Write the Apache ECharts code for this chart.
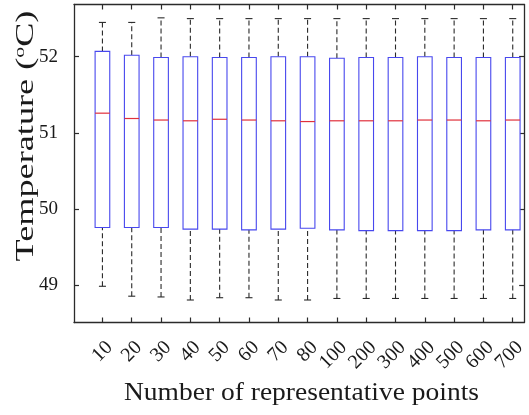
<!DOCTYPE html>
<html>
<head>
<meta charset="utf-8">
<script src="https://cdn.jsdelivr.net/npm/echarts@6/dist/echarts.min.js"></script>
<style>
  html, body { margin: 0; padding: 0; background: #ffffff; }
  #chart { width: 529px; height: 415px; }
</style>
</head>
<body>
<div id="chart"></div>
<script>
// Number of representative points (one box per setting)
const categories = ['10', '20', '30', '40', '50', '60', '70', '80', '100', '200', '300', '400', '500', '600', '700'];

// Box statistics of temperature (°C) for each setting
const whiskerLow  = [48.99, 48.86, 48.85, 48.81, 48.84, 48.84, 48.81, 48.81, 48.83, 48.83, 48.83, 48.83, 48.83, 48.83, 48.83];
const quartile1   = [49.76, 49.76, 49.76, 49.74, 49.74, 49.73, 49.74, 49.75, 49.73, 49.72, 49.72, 49.72, 49.72, 49.73, 49.73];
const medians     = [51.26, 51.19, 51.17, 51.16, 51.18, 51.17, 51.16, 51.15, 51.16, 51.16, 51.16, 51.17, 51.17, 51.16, 51.17];
const quartile3   = [52.07, 52.02, 51.99, 52.00, 51.99, 51.99, 52.00, 52.00, 51.98, 51.99, 51.99, 52.00, 51.99, 51.99, 51.99];
const whiskerHigh = [52.45, 52.45, 52.51, 52.50, 52.50, 52.50, 52.50, 52.50, 52.50, 52.50, 52.50, 52.50, 52.50, 52.50, 52.50];

// Y-axis tick values
const yTicks = [49, 50, 51, 52];

const positions = categories.map((c, i) => i + 1);
const boxData = categories.map((c, i) => [
  positions[i], whiskerLow[i], quartile1[i], medians[i], quartile3[i], whiskerHigh[i]
]);

const FONT = '"Liberation Serif", "Times New Roman", serif';
const INK = '#1a1a1a';
const FRAME = '#2b2b2b';
const BOX_BLUE = '#4848ee';
const MEDIAN_RED = '#e0303c';
const WHISKER = '#2a2a2a';

// One box: dashed whiskers with caps, blue IQR box, red median
function renderBox(params, api) {
  const x = api.value(0);
  const pLow = api.coord([x, api.value(1)]);
  const pQ1 = api.coord([x, api.value(2)]);
  const pMed = api.coord([x, api.value(3)]);
  const pQ3 = api.coord([x, api.value(4)]);
  const pHigh = api.coord([x, api.value(5)]);
  const halfBox = api.size([0.25, 0])[0];
  const halfCap = api.size([0.12, 0])[0];
  const cx = pMed[0];
  const dashed = { stroke: WHISKER, lineWidth: 1.1, lineDash: [5, 3], fill: null };
  const solid = { stroke: WHISKER, lineWidth: 1.1, fill: null };
  return {
    type: 'group',
    children: [
      { type: 'line', shape: { x1: cx, y1: pQ3[1], x2: cx, y2: pHigh[1] }, style: dashed },
      { type: 'line', shape: { x1: cx, y1: pLow[1], x2: cx, y2: pQ1[1] }, style: dashed },
      { type: 'line', shape: { x1: cx - halfCap, y1: pHigh[1], x2: cx + halfCap, y2: pHigh[1] }, style: solid },
      { type: 'line', shape: { x1: cx - halfCap, y1: pLow[1], x2: cx + halfCap, y2: pLow[1] }, style: solid },
      { type: 'rect', shape: { x: cx - halfBox, y: pQ3[1], width: halfBox * 2, height: pQ1[1] - pQ3[1] },
        style: { stroke: BOX_BLUE, lineWidth: 1.1, fill: '#ffffff' } },
      { type: 'line', shape: { x1: cx - halfBox, y1: pMed[1], x2: cx + halfBox, y2: pMed[1] },
        style: { stroke: MEDIAN_RED, lineWidth: 1.2 } }
    ]
  };
}

const xMin = 0.03, xMax = 15.39;
const yMin = 48.515, yMax = 52.685;
const frameLine = { show: true, lineStyle: { color: FRAME, width: 1.3 } };
const inTick = { show: true, inside: true, length: 5, lineStyle: { color: FRAME, width: 1.2 } };

const chart = echarts.init(document.getElementById('chart'), null, { renderer: 'canvas' });
chart.setOption({
  animation: false,
  backgroundColor: '#ffffff',
  grid: { left: 74, right: 3.5, top: 4.5, bottom: 92.5, containLabel: false },
  xAxis: [
    {
      type: 'value', position: 'bottom', min: xMin, max: xMax,
      axisLine: frameLine,
      axisTick: Object.assign({}, inTick, { customValues: positions }),
      axisLabel: {
        customValues: positions, rotate: 45, margin: 15,
        align: 'right', verticalAlign: 'top',
        fontFamily: FONT, fontSize: 20, color: INK,
        formatter: v => categories[Math.round(v) - 1] || ''
      },
      splitLine: { show: false }
    },
    {
      type: 'value', position: 'top', min: xMin, max: xMax,
      axisLine: frameLine,
      axisTick: Object.assign({}, inTick, { customValues: positions }),
      axisLabel: { show: false }, splitLine: { show: false }
    }
  ],
  yAxis: [
    {
      type: 'value', position: 'left', min: yMin, max: yMax,
      axisLine: frameLine,
      axisTick: Object.assign({}, inTick, { customValues: yTicks }),
      axisLabel: { customValues: yTicks, margin: 16, fontFamily: FONT, fontSize: 19, color: INK },
      splitLine: { show: false }
    },
    {
      type: 'value', position: 'right', min: yMin, max: yMax,
      axisLine: frameLine,
      axisTick: Object.assign({}, inTick, { customValues: yTicks }),
      axisLabel: { show: false }, splitLine: { show: false }
    }
  ],
  graphic: [
    {
      // vertical axis title
      type: 'text', x: 26, y: 136, rotation: Math.PI / 2, scaleX: 1.45, z: 10,
      style: {
        text: 'Temperature ({sup|o}C)', x: 0, y: 0, align: 'center', verticalAlign: 'middle',
        fontFamily: FONT, fontSize: 25, fill: INK,
        rich: { sup: { fontFamily: FONT, fontSize: 15, fill: INK, padding: [0, 0, 12, 0] } }
      }
    },
    {
      // horizontal axis title
      type: 'text', x: 301.5, y: 393, scaleX: 1.1, z: 10,
      style: {
        text: 'Number of representative points', x: 0, y: 0, align: 'center', verticalAlign: 'middle',
        fontFamily: FONT, fontSize: 25, fill: INK
      }
    }
  ],
  series: [
    {
      type: 'custom', xAxisIndex: 0, yAxisIndex: 0,
      renderItem: renderBox,
      encode: { x: 0, y: [1, 2, 3, 4, 5] },
      data: boxData, clip: false
    }
  ]
});
</script>
</body>
</html>
